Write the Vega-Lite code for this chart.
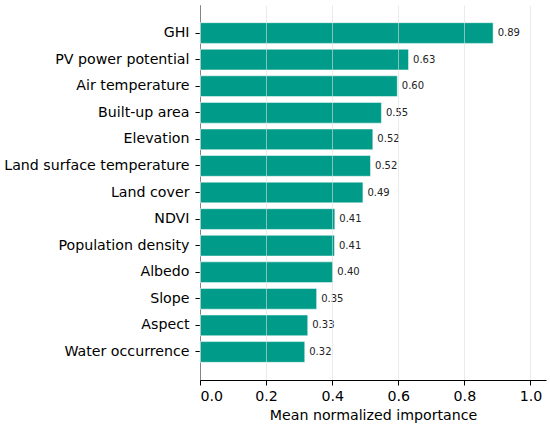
{
  "$schema": "https://vega.github.io/schema/vega-lite/v6.json",
  "autosize": {"type": "none"},
  "padding": {"left": 200, "top": 5, "right": 4, "bottom": 47},
  "width": 346,
  "height": 375,
  "config": {
    "view": {"stroke": null},
    "font": "DejaVu Sans"
  },
  "data": {
    "values": [
      {"feature": "GHI", "importance": 0.887},
      {"feature": "PV power potential", "importance": 0.631},
      {"feature": "Air temperature", "importance": 0.597},
      {"feature": "Built-up area", "importance": 0.549},
      {"feature": "Elevation", "importance": 0.523},
      {"feature": "Land surface temperature", "importance": 0.516},
      {"feature": "Land cover", "importance": 0.493},
      {"feature": "NDVI", "importance": 0.408},
      {"feature": "Population density", "importance": 0.407},
      {"feature": "Albedo", "importance": 0.402},
      {"feature": "Slope", "importance": 0.353},
      {"feature": "Aspect", "importance": 0.326},
      {"feature": "Water occurrence", "importance": 0.317}
    ]
  },
  "encoding": {
    "y": {
      "field": "feature",
      "type": "nominal",
      "sort": null,
      "scale": {"paddingInner": 0.22, "paddingOuter": 0.665},
      "axis": {
        "title": null,
        "labelFontSize": 14.2,
        "labelLimit": 400,
        "labelColor": "#000000",
        "domainColor": "#000000",
        "domainWidth": 1,
        "tickColor": "#000000",
        "tickSize": 5,
        "labelPadding": 6,
        "grid": false
      }
    },
    "x": {
      "field": "importance",
      "type": "quantitative",
      "scale": {"domain": [0, 1.047], "nice": false},
      "axis": {
        "title": "Mean normalized importance",
        "titleFontSize": 14.2,
        "titleFontWeight": "normal",
        "titleColor": "#000000",
        "titlePadding": 5,
        "values": [0, 0.2, 0.4, 0.6, 0.8, 1.0],
        "format": ".1f",
        "labelFontSize": 14.2,
        "labelColor": "#000000",
        "labelPadding": 4,
        "domainColor": "#000000",
        "domainWidth": 1,
        "tickColor": "#000000",
        "tickSize": 5,
        "grid": true,
        "gridColor": "#dddddd",
        "gridOpacity": 0.6,
        "zindex": 1
      }
    }
  },
  "layer": [
    {
      "mark": {"type": "bar", "color": "#009c89", "stroke": "#ffffff", "strokeWidth": 0.5}
    },
    {
      "mark": {"type": "text", "align": "left", "baseline": "middle", "dx": 4.5, "fontSize": 10, "color": "#222222"},
      "encoding": {
        "text": {"field": "importance", "type": "quantitative", "format": ".2f"}
      }
    }
  ]
}
